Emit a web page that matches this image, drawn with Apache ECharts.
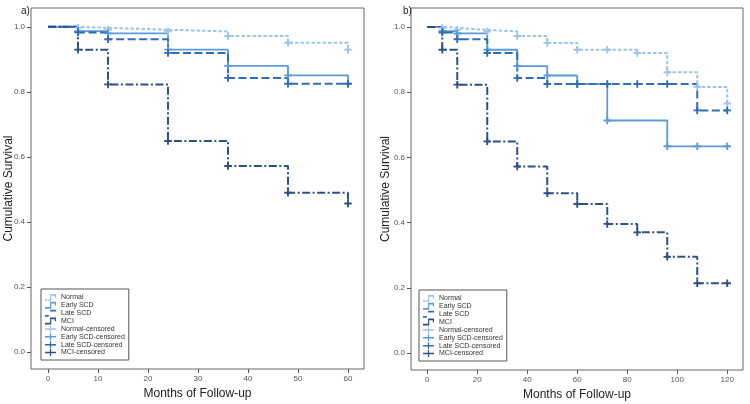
<!DOCTYPE html>
<html>
<head>
<meta charset="utf-8">
<script src="https://cdn.jsdelivr.net/npm/echarts@6/dist/echarts.min.js"></script>
<style>
html,body{margin:0;padding:0;background:#fff;}
#chart{width:750px;height:404px;}
</style>
</head>
<body>
<div id="chart"></div>
<script>
// ---------- data ----------
const panelTitles = ['a)', 'b)'];
const xTicksA = [0, 10, 20, 30, 40, 50, 60];
const xTicksB = [0, 20, 40, 60, 80, 100, 120];
const yTicks = [0, 0.2, 0.4, 0.6, 0.8, 1.0];
const groupNames = ['Normal', 'Early SCD', 'Late SCD', 'MCI'];

const monthsA = [0, 6, 12, 24, 36, 48, 60];
const normalA = [1, 0.997, 0.991, 0.986, 0.972, 0.951, 0.93];
const earlyA  = [1, 0.987, 0.98, 0.93, 0.88, 0.851, 0.825];
const lateA   = [1, 0.983, 0.962, 0.92, 0.843, 0.825, 0.825];
const mciA    = [1, 0.93, 0.823, 0.649, 0.572, 0.49, 0.457];

const monthsB = [0, 6, 12, 24, 36, 48, 60, 72, 84, 96, 108, 120];
const normalB = [1, 0.997, 0.991, 0.986, 0.972, 0.951, 0.93, 0.93, 0.92, 0.861, 0.816, 0.765];
const earlyB  = [1, 0.987, 0.98, 0.93, 0.88, 0.851, 0.825, 0.713, 0.713, 0.634, 0.634, 0.634];
const lateB   = [1, 0.983, 0.962, 0.92, 0.843, 0.825, 0.825, 0.825, 0.825, 0.825, 0.744, 0.744];
const mciB    = [1, 0.93, 0.823, 0.649, 0.572, 0.49, 0.457, 0.396, 0.37, 0.295, 0.214, 0.214];

// censored times
const censorNormalA = [6, 12, 24, 36, 48, 60];
const censorEarlyA  = [6, 12, 24, 36, 48, 60];
const censorLateA   = [6, 12, 24, 36, 48, 60];
const censorMciA    = [6, 12, 24, 36, 48, 60];
const censorNormalB = [6, 12, 24, 36, 48, 60, 72, 84, 96, 108, 120];
const censorEarlyB  = [6, 12, 24, 36, 48, 60, 72, 96, 108, 120];
const censorLateB   = [6, 12, 24, 36, 48, 60, 72, 84, 96, 108, 120];
const censorMciB    = [6, 12, 24, 36, 48, 60, 72, 84, 96, 108, 120];

// ---------- styles ----------
const colors = ['#9ec4e8', '#5b9bd8', '#2f6db5', '#2d5183'];
const dashes = [[3.5, 2], 'solid', [8, 3.5], [8, 2.5, 2, 2.5]];
const widths = [2, 1.8, 2, 2];
const plusPath = 'path://M3,0H5V3H8V5H5V8H3V5H0V3H3Z';
const stepIcons = [
  'path://M0,5.2H2.5V6.6H0Z M4,5.2H7V6.6H4Z M6,1H7.4V6.6H6Z M6,1H13V2.4H6Z M11.6,1H13V4H11.6Z',
  'path://M0,5.2H7V6.6H0Z M6,1H7.4V6.6H6Z M6,1H13V2.4H6Z M11.6,1H13V4H11.6Z',
  'path://M0,5.2H4.5V6.6H0Z M6,1H13V2.4H6Z',
  'path://M0,5.2H7V6.6H0Z M6,1H7.4V6.6H6Z M6,1H13V2.4H6Z M11.6,1H13V4H11.6Z'
];
const censorIcon = 'path://M0,3H14V4.6H0Z M6.2,0H7.8V7.6H6.2Z';

function pairs(xs, ys) { return xs.map((x, i) => [x, ys[i]]); }
function censorPts(xs, ys, ts) { return ts.map(t => [t, ys[xs.indexOf(t)]]); }

const curvesA = [normalA, earlyA, lateA, mciA];
const curvesB = [normalB, earlyB, lateB, mciB];
const censA = [censorNormalA, censorEarlyA, censorLateA, censorMciA];
const censB = [censorNormalB, censorEarlyB, censorLateB, censorMciB];

const series = [];
[[monthsA, curvesA, censA, 0], [monthsB, curvesB, censB, 1]].forEach(([xs, curves, cens, gi]) => {
  curves.forEach((ys, k) => {
    series.push({
      name: groupNames[k], type: 'line', step: 'end', xAxisIndex: gi, yAxisIndex: gi,
      data: pairs(xs, ys), symbol: 'none', silent: true, animation: false, z: 2 + k,
      itemStyle: { color: colors[k] },
      lineStyle: { color: colors[k], width: widths[k], type: dashes[k] }
    });
  });
  curves.forEach((ys, k) => {
    series.push({
      name: groupNames[k] + '-censored', type: 'scatter', xAxisIndex: gi, yAxisIndex: gi,
      data: censorPts(xs, ys, cens[k]), symbol: plusPath, symbolSize: 7.5,
      silent: true, animation: false, z: 10 + k,
      itemStyle: { color: colors[k], opacity: 1 }
    });
  });
});

const legendData = groupNames.map((n, k) => ({ name: n, icon: stepIcons[k] }))
  .concat(groupNames.map(n => ({ name: n + '-censored', icon: censorIcon })));

function legend(left, top) {
  return {
    left: left, top: top, orient: 'vertical', data: legendData,
    itemWidth: 11, itemHeight: 7, itemGap: 0.86, symbolKeepAspect: false,
    padding: [5, 4, 4, 4], borderColor: '#555', borderWidth: 1, backgroundColor: '#fff',
    selectedMode: false,
    itemStyle: { borderWidth: 0 },
    textStyle: { fontSize: 7, lineHeight: 7, color: '#333', fontFamily: 'Liberation Sans' }
  };
}

const axisLabelStyle = { fontSize: 8, color: '#555', fontFamily: 'Liberation Sans' };
function xAxis(gi, min, max, ticks) {
  return {
    type: 'value', gridIndex: gi, min: min, max: max,
    name: 'Months of Follow-up', nameLocation: 'middle', nameGap: 18,
    nameTextStyle: { fontSize: 12, color: '#222', fontFamily: 'Liberation Sans' },
    axisLine: { show: false, onZero: false }, splitLine: { show: false },
    axisTick: { show: true, inside: false, length: 4, customValues: ticks, lineStyle: { color: '#555' } },
    axisLabel: Object.assign({ customValues: ticks, margin: 6 }, axisLabelStyle)
  };
}
function yAxis(gi, gap) {
  return {
    type: 'value', gridIndex: gi, min: -0.052, max: 1.058,
    name: 'Cumulative Survival', nameLocation: 'middle', nameGap: gap, nameMoveOverlap: false,
    nameTextStyle: { fontSize: 12, color: '#222', fontFamily: 'Liberation Sans' },
    axisLine: { show: false, onZero: false }, splitLine: { show: false },
    axisTick: { show: true, inside: false, length: 4, customValues: yTicks, lineStyle: { color: '#555' } },
    axisLabel: Object.assign({ customValues: yTicks, margin: 6, formatter: v => v.toFixed(1) }, axisLabelStyle)
  };
}

const option = {
  backgroundColor: '#fff',
  animation: false,
  title: [
    { text: panelTitles[0], left: 16, top: 1, textStyle: { fontSize: 10, fontWeight: 'normal', color: '#222', fontFamily: 'Liberation Sans' } },
    { text: panelTitles[1], left: 398, top: 1, textStyle: { fontSize: 10, fontWeight: 'normal', color: '#222', fontFamily: 'Liberation Sans' } }
  ],
  grid: [
    { left: 31, right: 386, top: 8, bottom: 35, show: true, borderColor: '#666', borderWidth: 1, backgroundColor: 'transparent', outerBoundsMode: 'none', containLabel: false },
    { left: 411, right: 7, top: 8, bottom: 34, show: true, borderColor: '#666', borderWidth: 1, backgroundColor: 'transparent', outerBoundsMode: 'none', containLabel: false }
  ],
  xAxis: [xAxis(0, -3.4, 63.2, xTicksA), xAxis(1, -6.5, 126.3, xTicksB)],
  yAxis: [yAxis(0, 16.5), yAxis(1, 19)],
  legend: [legend(41, 289), legend(419, 290)],
  series: series
};

const chart = echarts.init(document.getElementById('chart'), null, { renderer: 'canvas' });
chart.setOption(option);
</script>
</body>
</html>
